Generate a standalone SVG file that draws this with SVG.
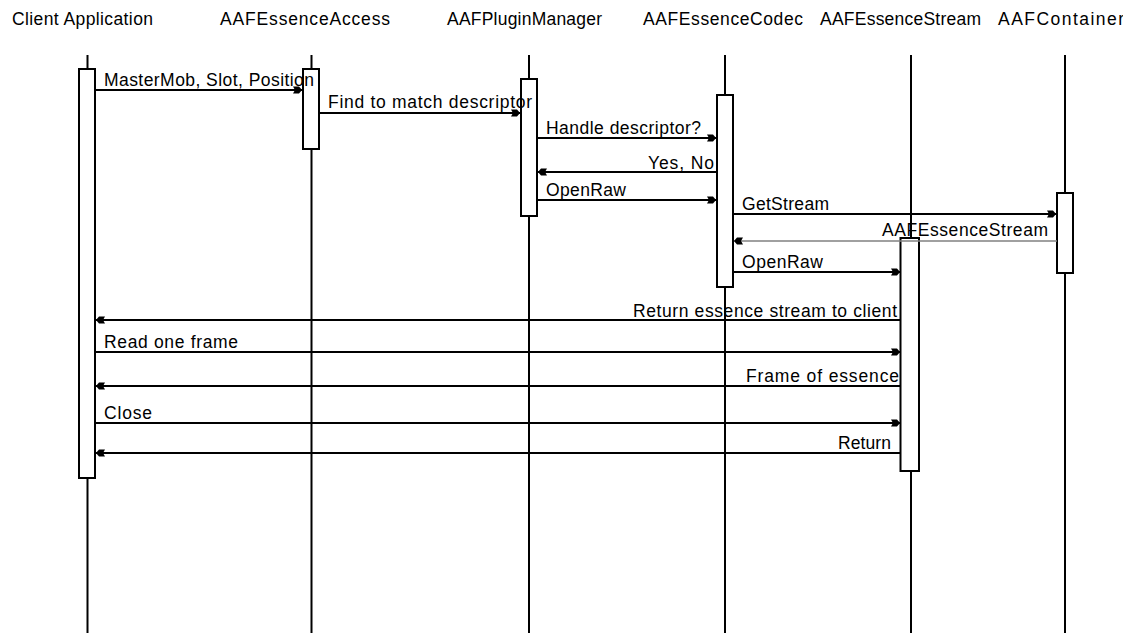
<svg xmlns="http://www.w3.org/2000/svg" width="1123" height="633" viewBox="0 0 1123 633">
  <style>
    text { font-family: "Liberation Sans", Arial, sans-serif; font-size: 17.5px; fill: #000; }
    .life { stroke: #000; stroke-width: 2; fill: none; }
    .act { fill: #fff; stroke: #000; stroke-width: 2; }
    .msg { stroke: #000; stroke-width: 2; fill: none; marker-end: url(#head); }
    .msg.grey { stroke: #808080; stroke-width: 1.6; }
  </style>
  <defs>
    <marker id="head" markerUnits="userSpaceOnUse" viewBox="-11 -6 12 12" refX="0" refY="0" markerWidth="12" markerHeight="12" orient="auto">
      <path d="M0,0 L-3,-3.5 L-9,-3.5 L-7,0 L-9,3.5 L-3,3.5 Z" fill="#000"/>
    </marker>
  </defs>
  <rect width="1123" height="633" fill="#fff"/>

  <!-- participants: header, lifeline and activation bar -->
  <g id="client">
    <text x="12" y="25" textLength="141">Client Application</text>
    <line class="life" x1="87.5" y1="55" x2="87.5" y2="633"/>
    <rect class="act" x="79" y="69" width="16" height="409"/>
  </g>
  <g id="essence-access">
    <text x="220" y="25" textLength="170">AAFEssenceAccess</text>
    <line class="life" x1="311.5" y1="55" x2="311.5" y2="633"/>
    <rect class="act" x="303" y="69" width="16" height="80"/>
  </g>
  <g id="plugin-manager">
    <text x="447" y="25" textLength="155">AAFPluginManager</text>
    <line class="life" x1="529" y1="55" x2="529" y2="633"/>
    <rect class="act" x="521" y="79" width="16" height="137"/>
  </g>
  <g id="essence-codec">
    <text x="643" y="25" textLength="160">AAFEssenceCodec</text>
    <line class="life" x1="725" y1="55" x2="725" y2="633"/>
    <rect class="act" x="717" y="95" width="16" height="192"/>
  </g>
  <g id="essence-stream">
    <text x="820" y="25" textLength="161">AAFEssenceStream</text>
    <line class="life" x1="911" y1="55" x2="911" y2="633"/>
    <rect class="act" x="900.5" y="238" width="18.5" height="233"/>
  </g>
  <g id="container">
    <text x="998" y="25" textLength="126">AAFContainer</text>
    <line class="life" x1="1065" y1="55" x2="1065" y2="633"/>
    <rect class="act" x="1057" y="193" width="16" height="80"/>
  </g>

  <!-- messages -->
  <g id="messages">
    <line class="msg" x1="95" y1="90" x2="302" y2="90"/>
    <text x="104" y="86" textLength="210">MasterMob, Slot, Position</text>

    <line class="msg" x1="319" y1="113" x2="520" y2="113"/>
    <text x="328" y="108" textLength="204">Find to match descriptor</text>

    <line class="msg" x1="537" y1="138" x2="716" y2="138"/>
    <text x="546" y="134" textLength="155">Handle descriptor?</text>

    <line class="msg" x1="717" y1="172" x2="538" y2="172"/>
    <text x="648" y="169" textLength="66">Yes, No</text>

    <line class="msg" x1="537" y1="200" x2="716" y2="200"/>
    <text x="546" y="196" textLength="80">OpenRaw</text>

    <line class="msg" x1="733" y1="214" x2="1056" y2="214"/>
    <text x="742" y="210" textLength="87">GetStream</text>

    <line class="msg grey" x1="1057" y1="241" x2="734" y2="241"/>
    <text x="882" y="236" textLength="166">AAFEssenceStream</text>

    <line class="msg" x1="733" y1="272" x2="900" y2="272"/>
    <text x="742" y="268" textLength="81">OpenRaw</text>

    <line class="msg" x1="900" y1="320" x2="96" y2="320"/>
    <text x="633" y="317" textLength="264">Return essence stream to client</text>

    <line class="msg" x1="95" y1="352" x2="900" y2="352"/>
    <text x="104" y="348" textLength="134">Read one frame</text>

    <line class="msg" x1="900" y1="386" x2="96" y2="386"/>
    <text x="746" y="382" textLength="153">Frame of essence</text>

    <line class="msg" x1="95" y1="423" x2="900" y2="423"/>
    <text x="104" y="419" textLength="48">Close</text>

    <line class="msg" x1="900" y1="453" x2="96" y2="453"/>
    <text x="838" y="449" textLength="53">Return</text>
  </g>
</svg>
